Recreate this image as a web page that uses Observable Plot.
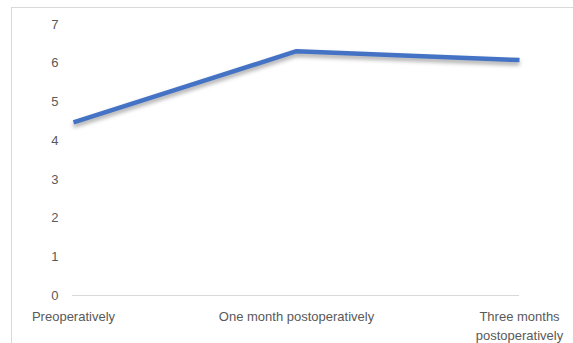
<!DOCTYPE html>
<html>
<head>
<meta charset="utf-8">
<script src="https://cdn.jsdelivr.net/npm/d3@7"></script>
<script src="https://cdn.jsdelivr.net/npm/@observablehq/plot@0.6"></script>
<style>
  html, body { margin: 0; padding: 0; background: #fff; }
  #wrap { position: relative; width: 573px; height: 343px; overflow: hidden; }
  #frame { position: absolute; left: 11px; top: 7px; width: 600px; height: 400px; border: 1px solid #d9d9d9; box-sizing: border-box; }
  #chart { position: absolute; left: 0; top: 0; }
</style>
</head>
<body>
<div id="wrap"><div id="frame"></div><div id="chart"></div></div>
<script>
const categories = ["Preoperatively", "One month postoperatively", "Three months\npostoperatively"];
const values = [4.47, 6.31, 6.08];
const yTicks = [0, 1, 2, 3, 4, 5, 6, 7];

const data = categories.map((c, i) => ({cat: c, v: values[i]}));
const font = "Liberation Sans, Arial, sans-serif";

const chart = Plot.plot({
  width: 573,
  height: 343,
  marginLeft: 72,
  marginRight: 54,
  marginTop: 24,
  marginBottom: 48,
  style: {fontFamily: font, fontSize: "13px", color: "#595959", background: "transparent"},
  x: {type: "point", domain: categories, padding: 0},
  y: {domain: [0, 7]},
  marks: [
    Plot.ruleY([0], {stroke: "#d9d9d9", strokeWidth: 1}),
    Plot.axisY({ticks: yTicks, tickFormat: d3.format("d"), tickSize: 0, tickPadding: 14, label: null, fill: "#595959"}),
    Plot.axisX({tickSize: 0, tickPadding: 12, label: null, fill: "#595959", lineHeight: 1.45}),
    Plot.line(data, {x: "cat", y: "v", stroke: "#4472c4", strokeWidth: 4.5, strokeLinejoin: "round", strokeLinecap: "butt", className: "mainline"})
  ]
});
chart.querySelectorAll(".mainline path").forEach(p => p.style.filter = "drop-shadow(0px 3px 2px rgba(0,0,0,0.35))");
document.getElementById("chart").appendChild(chart);
</script>
</body>
</html>
